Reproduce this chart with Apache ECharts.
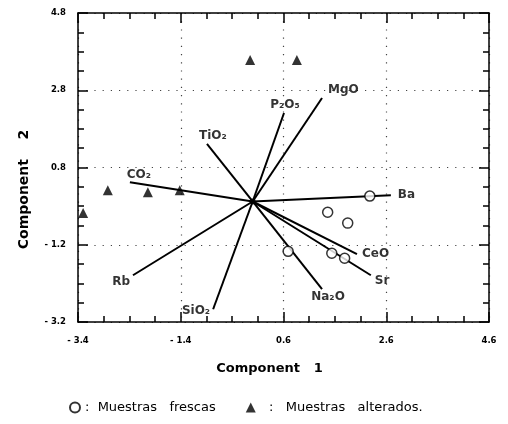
<!DOCTYPE html>
<html>
<head>
<meta charset="utf-8">
<script src="https://cdn.jsdelivr.net/npm/echarts@6/dist/echarts.min.js"></script>
<style>html,body{margin:0;padding:0;background:#fff}#c{width:508px;height:424px}</style>
</head>
<body>
<div id="c"></div>
<script>
// ---- data ----
const xTickMin = -3.4, xTickMax = 4.6, tickStep = 2;
const yTickMin = -3.2, yTickMax = 4.8;
const center = [0, -0.08];
const varNames = ['MgO', 'P\u2082O\u2085', 'TiO\u2082', 'CO\u2082', 'Ba', 'CeO', 'Sr', 'Na\u2082O', 'Rb', 'SiO\u2082'];
const varX = [1.35, 0.61, -0.89, -2.39, 2.69, 2.03, 2.30, 1.35, -2.33, -0.77];
const varY = [2.60, 2.21, 1.41, 0.42, 0.08, -1.44, -1.99, -2.35, -1.99, -2.87];
const frescasX = [2.28, 1.46, 1.85, 0.69, 1.54, 1.79];
const frescasY = [0.06, -0.36, -0.64, -1.37, -1.42, -1.55];
const alteradasX = [-3.30, -2.82, -2.04, -1.42, -0.05, 0.86];
const alteradasY = [-0.38, 0.21, 0.16, 0.21, 3.58, 3.58];

// label placement styles per variable
const labelStyle = {
  'MgO': {position: 'right', offset: [3, -8]},
  'P\u2082O\u2085': {position: 'top', offset: [1, 1]},
  'TiO\u2082': {position: 'top', offset: [6, 1]},
  'CO\u2082': {position: 'top', offset: [9, 2]},
  'Ba': {position: 'right', offset: [4, 0]},
  'CeO': {position: 'right', offset: [2, 0]},
  'Sr': {position: 'right', offset: [1, 6]},
  'Na\u2082O': {position: 'bottom', offset: [6, -1]},
  'Rb': {position: 'left', offset: [0, 7]},
  'SiO\u2082': {position: 'left', offset: [0, 2]}
};

const FONT = 'DejaVu Sans';
const fmt = v => (v < 0 ? '- ' + Math.abs(v).toFixed(1) : v.toFixed(1));

function xAxisDef(pos, showLabel) {
  return {
    type: 'value', position: pos, min: xTickMin, max: xTickMax, interval: tickStep,
    name: showLabel ? 'Component   1' : '', nameLocation: 'middle', nameGap: 40,
    nameTextStyle: {fontFamily: FONT, fontWeight: 'bold', fontSize: 13, color: '#000', padding: [0, 28, 0, 0]},
    axisLine: {show: true, onZero: false, lineStyle: {color: '#000', width: 1.5}},
    axisTick: {show: true, inside: true, length: 10, lineStyle: {color: '#000', width: 1.5}},
    minorTick: {show: true, splitNumber: 4, length: 6, lineStyle: {color: '#000', width: 1.5}},
    axisLabel: {show: showLabel, formatter: fmt, fontFamily: FONT, fontWeight: 'bold', fontSize: 8.5, color: '#000', margin: 14},
    splitLine: {show: showLabel, lineStyle: {color: '#444', type: [1.2, 7], width: 1.2}}
  };
}
function yAxisDef(pos, showLabel) {
  return {
    type: 'value', position: pos, min: yTickMin, max: yTickMax, interval: tickStep,
    name: showLabel ? 'Component    2' : '', nameLocation: 'middle', nameGap: 47,
    nameTextStyle: {fontFamily: FONT, fontWeight: 'bold', fontSize: 14, color: '#000', padding: [0, 44, 0, 0]},
    axisLine: {show: true, onZero: false, lineStyle: {color: '#000', width: 1.5}},
    axisTick: {show: true, inside: true, length: 10, lineStyle: {color: '#000', width: 1.5}},
    minorTick: {show: true, splitNumber: 4, length: 6, lineStyle: {color: '#000', width: 1.5}},
    axisLabel: {show: showLabel, formatter: fmt, fontFamily: FONT, fontWeight: 'bold', fontSize: 8.5, color: '#000', margin: 12},
    splitLine: {show: showLabel, lineStyle: {color: '#444', type: [1.2, 7], width: 1.2}}
  };
}

const series = [];
// vectors
varNames.forEach((n, i) => {
  series.push({
    type: 'line', xAxisIndex: 0, yAxisIndex: 0, silent: true, symbol: 'none',
    lineStyle: {color: '#000', width: 2}, z: 2,
    data: [center, [varX[i], varY[i]]]
  });
});
// vector labels
series.push({
  type: 'scatter', symbolSize: 0, silent: true, z: 5,
  data: varNames.map((n, i) => ({
    value: [varX[i], varY[i]], name: n,
    label: Object.assign({show: true, formatter: n, fontFamily: FONT, fontWeight: 'bold', fontSize: 12, color: '#000', distance: 3}, labelStyle[n])
  }))
});
// center dot
series.push({
  type: 'scatter', symbol: 'circle', symbolSize: 6, silent: true, z: 6,
  itemStyle: {color: '#000'}, data: [center]
});
series.push({
  name: 'Muestras   frescas', type: 'scatter', symbol: 'circle', symbolSize: 10, z: 8,
  itemStyle: {color: '#fff', borderColor: '#000', borderWidth: 1.5},
  data: frescasX.map((x, i) => [x, frescasY[i]])
});
series.push({
  name: 'Muestras   alterados.', type: 'scatter', symbol: 'triangle', symbolSize: 10, z: 8,
  itemStyle: {color: '#000'},
  data: alteradasX.map((x, i) => [x, alteradasY[i]])
});

const chart = echarts.init(document.getElementById('c'), null, {renderer: 'canvas'});
chart.setOption({
  animation: false,
  backgroundColor: '#fff',
  grid: {left: 78, right: 19, top: 13, bottom: 102},
  xAxis: [xAxisDef('bottom', true), xAxisDef('top', false)],
  yAxis: [yAxisDef('left', true), yAxisDef('right', false)],
  legend: {
    left: 64, bottom: 5, itemWidth: 10, itemHeight: 10, itemGap: 30,
    data: ['Muestras   frescas', 'Muestras   alterados.'],
    formatter: n => (n.indexOf('frescas') >= 0 ? ':  ' : '  :   ') + n,
    textStyle: {fontFamily: FONT, fontSize: 13, color: '#000'}
  },
  series: series
});
</script>
</body>
</html>
